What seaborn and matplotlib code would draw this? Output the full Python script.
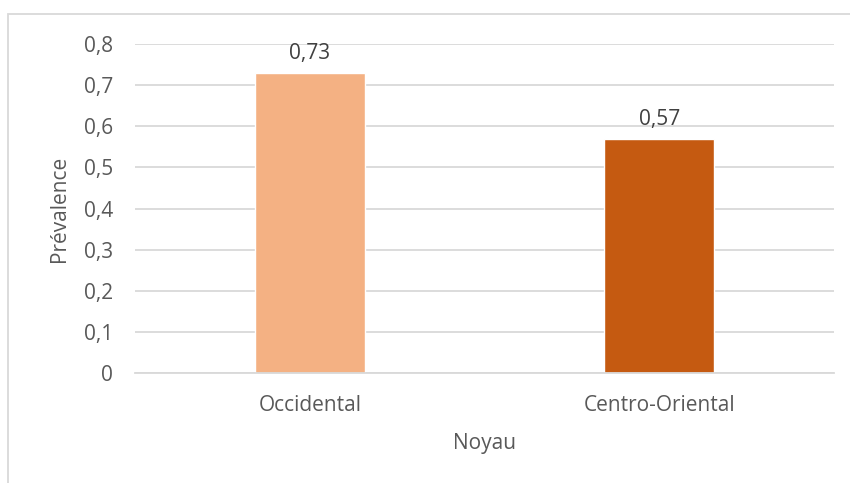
import matplotlib
matplotlib.use("Agg")
import matplotlib.pyplot as plt
import seaborn as sns
import pandas as pd
from matplotlib.patches import Rectangle

categories = ["Occidental", "Centro-Oriental"]
prevalence = [0.73, 0.57]
value_labels = ["0,73", "0,57"]
bar_colors = ["#F4B183", "#C55A11"]
y_ticks = [0, 0.1, 0.2, 0.3, 0.4, 0.5, 0.6, 0.7, 0.8]
y_tick_labels = ["0", "0,1", "0,2", "0,3", "0,4", "0,5", "0,6", "0,7", "0,8"]

sns.set_theme(style="white")
plt.rcParams["font.family"] = ["Open Sans", "DejaVu Sans"]
text_color = "#595959"
fs = 15

df = pd.DataFrame({"Noyau": categories, "Prévalence": prevalence})

fig = plt.figure(figsize=(8.5, 4.83), dpi=100)
ax = fig.add_axes([135 / 850, 1 - 373 / 483, 699 / 850, 329 / 483])

sns.barplot(data=df, x="Noyau", y="Prévalence", hue="Noyau",
            palette=bar_colors, width=0.315, saturation=1, legend=False, ax=ax)

ax.set_ylim(0, 0.8)
ax.set_xlim(-0.5, 1.5)
ax.set_yticks(y_ticks)
ax.set_yticklabels(y_tick_labels)
ax.yaxis.grid(True, color="#D9D9D9", linewidth=1.3)
ax.set_axisbelow(True)
for s in ["top", "right", "left"]:
    ax.spines[s].set_visible(False)
ax.spines["bottom"].set_color("#D9D9D9")
ax.spines["bottom"].set_linewidth(1.3)
ax.tick_params(axis="both", length=0, labelsize=fs, colors=text_color)
ax.tick_params(axis="y", pad=16)
ax.tick_params(axis="x", pad=16)
ax.set_xlabel("Noyau", fontsize=fs, color=text_color, labelpad=12)
ax.set_ylabel("Prévalence", fontsize=fs, color=text_color, labelpad=10)

for i, (v, lab) in enumerate(zip(prevalence, value_labels)):
    ax.annotate(lab, (i, v), xytext=(0, 6), textcoords="offset points",
                ha="center", va="bottom", fontsize=fs, color="#404040")

# chart frame
fig.patches.append(Rectangle((8 / 850, -0.1), 1.2, 1 - 14 / 483 + 0.1,
                             transform=fig.transFigure, fill=False,
                             edgecolor="#D9D9D9", linewidth=1.3, zorder=0))

fig.savefig("out.png", dpi=100, facecolor="white")
